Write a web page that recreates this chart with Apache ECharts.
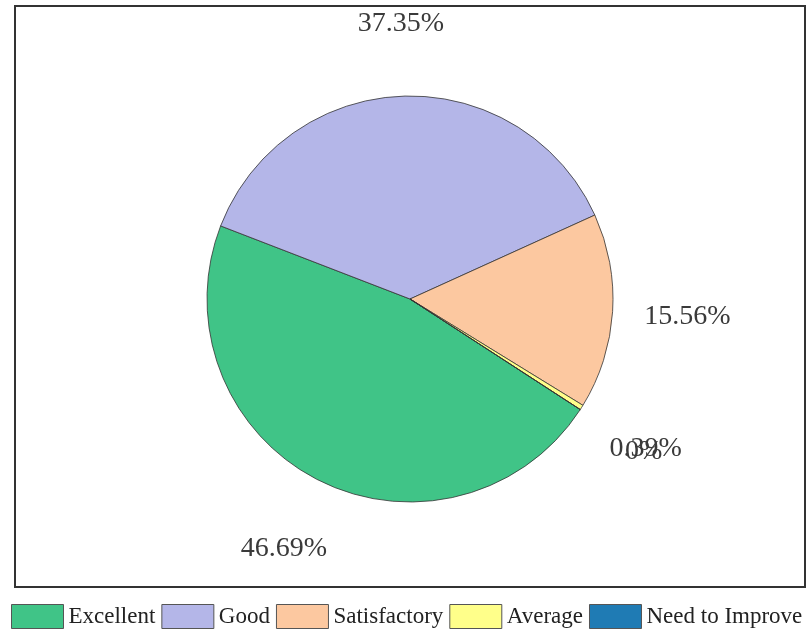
<!DOCTYPE html>
<html>
<head>
<meta charset="utf-8">
<script src="https://cdn.jsdelivr.net/npm/echarts@6/dist/echarts.min.js"></script>
<style>
html,body{margin:0;padding:0;background:#fff;}
#chart{width:812px;height:632px;}
</style>
</head>
<body>
<div id="chart"></div>
<script>
const categories = ['Excellent', 'Good', 'Satisfactory', 'Average', 'Need to Improve'];
const percentages = [46.69, 37.35, 15.56, 0.39, 0];
const colors = ['#40C487', '#B4B6E8', '#FCC8A0', '#FFFF8A', '#1F7BB4'];

const chart = echarts.init(document.getElementById('chart'));
const pieData = categories.map((c, i) => ({ name: c, value: percentages[i], itemStyle: { color: colors[i] } }));
const labelData = categories.map((c, i) => ({ name: c, value: percentages[i] }));

chart.setOption({
  animation: false,
  textStyle: { fontFamily: 'Liberation Serif' },
  graphic: [{
    type: 'rect',
    shape: { x: 15, y: 6, width: 790, height: 581 },
    style: { fill: 'none', stroke: '#333', lineWidth: 2 },
    silent: true
  }],
  legend: {
    data: categories,
    left: 6,
    top: 599,
    itemWidth: 52,
    itemHeight: 24,
    itemGap: 6,
    icon: 'rect',
    itemStyle: { borderColor: '#555', borderWidth: 1 },
    textStyle: { fontFamily: 'Liberation Serif', fontSize: 23, color: '#222' }
  },
  series: [
    {
      type: 'pie',
      center: [410, 299],
      radius: 203,
      startAngle: 327,
      clockwise: true,
      label: { show: false },
      labelLine: { show: false },
      itemStyle: { borderColor: '#333', borderWidth: 0.8 },
      data: pieData
    },
    {
      type: 'pie',
      center: [410, 301],
      radius: [265, 285],
      startAngle: 327,
      clockwise: true,
      minAngle: 0.3,
      minShowLabelAngle: 0,
      silent: true,
      avoidLabelOverlap: false,
      labelLayout: { hideOverlap: false },
      itemStyle: { color: 'rgba(0,0,0,0)', borderWidth: 0 },
      label: {
        show: true,
        position: 'inside',
        formatter: function (p) { return percentages[p.dataIndex] + '%'; },
        fontFamily: 'Liberation Serif',
        fontSize: 28,
        color: '#3a3a3a',
        rotate: 0
      },
      labelLine: { show: false },
      data: labelData
    }
  ]
});
</script>
</body>
</html>
